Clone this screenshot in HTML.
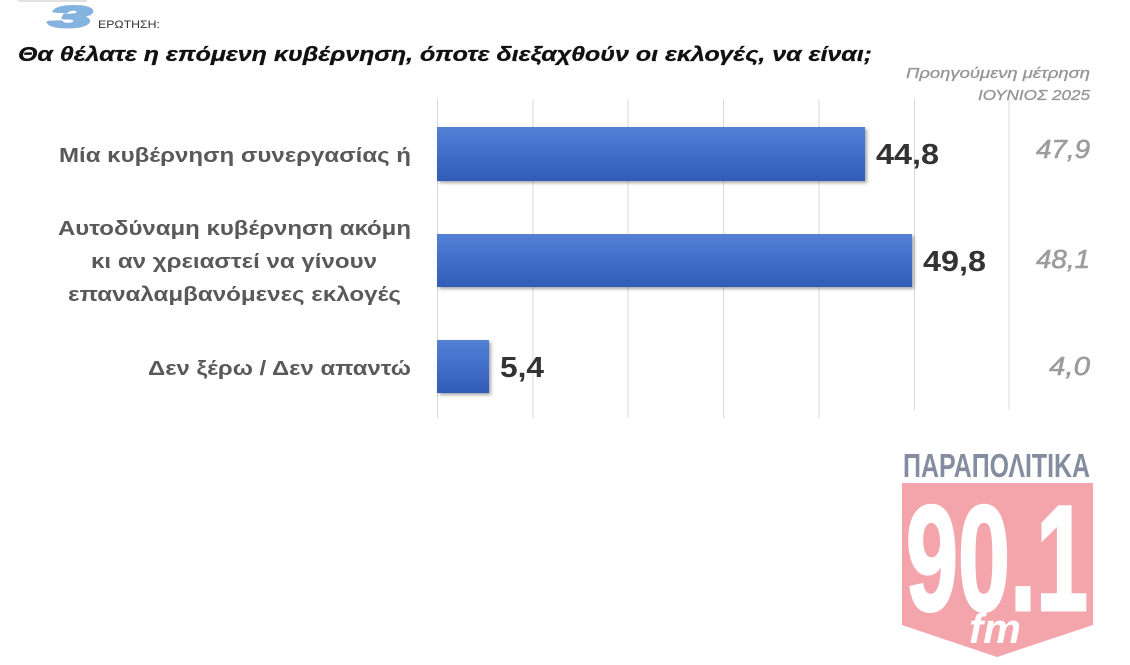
<!DOCTYPE html>
<html><head><meta charset="utf-8"><style>
html,body{margin:0;padding:0;background:#fff;}
svg{display:block;}
</style></head><body>
<svg width="1130" height="665" viewBox="0 0 1130 665" xmlns="http://www.w3.org/2000/svg">
<defs>
<linearGradient id="bg" x1="0" y1="0" x2="0" y2="1">
<stop offset="0" stop-color="#5380d4"/>
<stop offset="0.5" stop-color="#416ec9"/>
<stop offset="1" stop-color="#315cb6"/>
</linearGradient>
<filter id="sh" x="-5%" y="-10%" width="115%" height="130%">
<feGaussianBlur in="SourceAlpha" stdDeviation="1.5"/>
<feOffset dx="2" dy="2" result="b"/>
<feComponentTransfer><feFuncA type="linear" slope="0.35"/></feComponentTransfer>
<feMerge><feMergeNode/><feMergeNode in="SourceGraphic"/></feMerge>
</filter>
</defs>
<rect x="0" y="0" width="1130" height="665" fill="#fff"/>
<rect x="18" y="0" width="69" height="2" fill="#e2e2e2"/>
<text x="49" y="27" font-family="Liberation Sans, sans-serif" font-weight="bold" font-style="italic" font-size="30" fill="#85b3df" stroke="#85b3df" stroke-width="2.5" stroke-linejoin="round" textLength="42" lengthAdjust="spacingAndGlyphs">3</text>
<text x="98" y="28" font-family="Liberation Sans, sans-serif" font-size="11" fill="#333" textLength="62" lengthAdjust="spacingAndGlyphs">ΕΡΩΤΗΣΗ:</text>
<text x="18" y="61" font-family="Liberation Sans, sans-serif" font-weight="bold" font-style="italic" font-size="20" fill="#111" stroke="#111" stroke-width="0.3" textLength="854" lengthAdjust="spacingAndGlyphs">Θα θέλατε η επόμενη κυβέρνηση, όποτε διεξαχθούν οι εκλογές, να είναι;</text>
<text x="1090" y="78" text-anchor="end" font-family="Liberation Sans, sans-serif" font-style="italic" font-size="15" fill="#959595" stroke="#959595" stroke-width="0.3" textLength="184" lengthAdjust="spacingAndGlyphs">Προηγούμενη μέτρηση</text>
<text x="1090" y="100" text-anchor="end" font-family="Liberation Sans, sans-serif" font-style="italic" font-size="15" fill="#959595" stroke="#959595" stroke-width="0.3" textLength="112" lengthAdjust="spacingAndGlyphs">ΙΟΥΝΙΟΣ 2025</text>
<g stroke="#d9d9d9" stroke-width="1">
<line x1="437.5" y1="99" x2="437.5" y2="418"/>
<line x1="533" y1="99" x2="533" y2="418"/>
<line x1="628" y1="99" x2="628" y2="418"/>
<line x1="723.5" y1="99" x2="723.5" y2="418"/>
<line x1="819" y1="99" x2="819" y2="418"/>
<line x1="914.5" y1="99" x2="914.5" y2="410"/>
<line x1="1009" y1="99" x2="1009" y2="410"/>
</g>
<g filter="url(#sh)">
<rect x="437" y="127" width="428" height="54" fill="url(#bg)"/>
<rect x="437" y="234" width="475" height="53" fill="url(#bg)"/>
<rect x="437" y="340" width="52" height="53" fill="url(#bg)"/>
</g>
<g font-family="Liberation Sans, sans-serif" font-weight="bold" font-size="20" fill="#595959">
<text x="59" y="162" textLength="352" lengthAdjust="spacingAndGlyphs">Μία κυβέρνηση συνεργασίας ή</text>
<text x="58" y="235" textLength="353" lengthAdjust="spacingAndGlyphs">Αυτοδύναμη κυβέρνηση ακόμη</text>
<text x="91" y="268" textLength="286" lengthAdjust="spacingAndGlyphs">κι αν χρειαστεί να γίνουν</text>
<text x="68" y="301" textLength="333" lengthAdjust="spacingAndGlyphs">επαναλαμβανόμενες εκλογές</text>
<text x="148" y="375" textLength="263" lengthAdjust="spacingAndGlyphs">Δεν ξέρω / Δεν απαντώ</text>
</g>
<g font-family="Liberation Sans, sans-serif" font-weight="bold" font-size="29" fill="#333">
<text x="876" y="164" textLength="63" lengthAdjust="spacingAndGlyphs">44,8</text>
<text x="923" y="271" textLength="63" lengthAdjust="spacingAndGlyphs">49,8</text>
<text x="500" y="377" textLength="44" lengthAdjust="spacingAndGlyphs">5,4</text>
</g>
<g font-family="Liberation Sans, sans-serif" font-style="italic" font-size="26" fill="#9c9c9c" stroke="#9c9c9c" stroke-width="0.6" text-anchor="end">
<text x="1090" y="158" textLength="54" lengthAdjust="spacingAndGlyphs">47,9</text>
<text x="1090" y="268" textLength="54" lengthAdjust="spacingAndGlyphs">48,1</text>
<text x="1090" y="375" textLength="41" lengthAdjust="spacingAndGlyphs">4,0</text>
</g>
<!-- logo -->
<text x="903" y="477" font-family="Liberation Sans, sans-serif" font-weight="bold" font-size="33" fill="#848ca0" textLength="187" lengthAdjust="spacingAndGlyphs">ΠΑΡΑΠΟΛΙΤΙΚΑ</text>
<polygon points="902,483 1093,483 1093,625 997,657 902,625" fill="#f3a5ab"/>
<text x="906" y="610" font-family="Liberation Sans, sans-serif" font-weight="bold" font-size="150" fill="#fff" stroke="#fff" stroke-width="3" textLength="182" lengthAdjust="spacingAndGlyphs">90.1</text>
<text x="969" y="643" font-family="Liberation Sans, sans-serif" font-weight="bold" font-style="italic" font-size="42" fill="#fff" textLength="52" lengthAdjust="spacingAndGlyphs">fm</text>
</svg>
</body></html>
